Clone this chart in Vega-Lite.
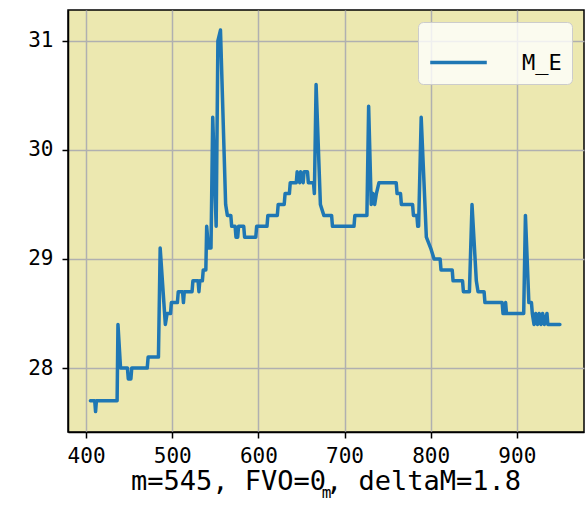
{
  "$schema": "https://vega.github.io/schema/vega-lite/v6.json",
  "autosize": {"type": "none"},
  "width": 516,
  "height": 422,
  "padding": {"left": 68, "top": 10, "right": 1, "bottom": 74},
  "background": "white",
  "title": {
    "text": "m=545, FVO=0, deltaM=1.8",
    "orient": "bottom",
    "anchor": "middle",
    "font": "DejaVu Sans Mono, monospace",
    "fontSize": 27,
    "fontWeight": "normal",
    "color": "black",
    "offset": -31
  },
  "config": {
    "view": {"fill": "#ece8b0", "stroke": "black", "strokeWidth": 1.5},
    "axis": {
      "labelFont": "DejaVu Sans Mono, monospace",
      "titleFont": "DejaVu Sans Mono, monospace",
      "labelFontSize": 21,
      "labelColor": "black",
      "tickColor": "black",
      "tickSize": 6,
      "tickWidth": 1.5,
      "domainColor": "black",
      "domainWidth": 1.5,
      "gridColor": "#b0b0b0",
      "gridWidth": 1.5,
      "gridOpacity": 1
    }
  },
  "data": {
    "values": [
      {"m": 405, "v": 27.7}, {"m": 410, "v": 27.7}, {"m": 411, "v": 27.6}, {"m": 412, "v": 27.7},
      {"m": 436, "v": 27.7}, {"m": 437, "v": 28.4}, {"m": 440, "v": 28.0}, {"m": 448, "v": 28.0},
      {"m": 449, "v": 27.9}, {"m": 452, "v": 27.9}, {"m": 453, "v": 28.0}, {"m": 471, "v": 28.0},
      {"m": 472, "v": 28.1}, {"m": 484, "v": 28.1}, {"m": 486, "v": 29.1}, {"m": 492, "v": 28.4},
      {"m": 494, "v": 28.5}, {"m": 498, "v": 28.5}, {"m": 499, "v": 28.6}, {"m": 506, "v": 28.6},
      {"m": 507, "v": 28.7}, {"m": 512, "v": 28.7}, {"m": 513, "v": 28.6}, {"m": 514, "v": 28.7},
      {"m": 523, "v": 28.7}, {"m": 524, "v": 28.8}, {"m": 530, "v": 28.8}, {"m": 531, "v": 28.7},
      {"m": 532, "v": 28.8}, {"m": 535, "v": 28.8}, {"m": 536, "v": 28.9}, {"m": 539, "v": 28.9},
      {"m": 540, "v": 29.3}, {"m": 542, "v": 29.1}, {"m": 545, "v": 29.1}, {"m": 547, "v": 30.3},
      {"m": 551, "v": 29.3}, {"m": 553, "v": 31.0}, {"m": 556, "v": 31.1}, {"m": 562, "v": 29.5},
      {"m": 564, "v": 29.4}, {"m": 568, "v": 29.4}, {"m": 569, "v": 29.3}, {"m": 573, "v": 29.3},
      {"m": 574, "v": 29.2}, {"m": 576, "v": 29.2}, {"m": 577, "v": 29.3}, {"m": 583, "v": 29.3},
      {"m": 584, "v": 29.2}, {"m": 597, "v": 29.2}, {"m": 598, "v": 29.3}, {"m": 610, "v": 29.3},
      {"m": 611, "v": 29.4}, {"m": 622, "v": 29.4}, {"m": 623, "v": 29.5}, {"m": 630, "v": 29.5},
      {"m": 631, "v": 29.6}, {"m": 636, "v": 29.6}, {"m": 637, "v": 29.7}, {"m": 644, "v": 29.7},
      {"m": 645, "v": 29.8}, {"m": 648, "v": 29.7}, {"m": 649, "v": 29.8}, {"m": 652, "v": 29.7},
      {"m": 653, "v": 29.8}, {"m": 657, "v": 29.8}, {"m": 658, "v": 29.7}, {"m": 664, "v": 29.7},
      {"m": 665, "v": 29.6}, {"m": 667, "v": 30.6}, {"m": 672, "v": 29.5}, {"m": 676, "v": 29.4},
      {"m": 685, "v": 29.4}, {"m": 686, "v": 29.3}, {"m": 711, "v": 29.3}, {"m": 712, "v": 29.4},
      {"m": 726, "v": 29.4}, {"m": 728, "v": 30.4}, {"m": 731, "v": 29.5}, {"m": 733, "v": 29.6},
      {"m": 735, "v": 29.5}, {"m": 737, "v": 29.6}, {"m": 740, "v": 29.7}, {"m": 760, "v": 29.7},
      {"m": 761, "v": 29.6}, {"m": 765, "v": 29.6}, {"m": 766, "v": 29.5}, {"m": 779, "v": 29.5},
      {"m": 780, "v": 29.4}, {"m": 784, "v": 29.4}, {"m": 785, "v": 29.3}, {"m": 786, "v": 29.3},
      {"m": 789, "v": 30.3}, {"m": 795, "v": 29.2}, {"m": 800, "v": 29.1}, {"m": 804, "v": 29.0},
      {"m": 811, "v": 29.0}, {"m": 812, "v": 28.9}, {"m": 825, "v": 28.9}, {"m": 826, "v": 28.8},
      {"m": 837, "v": 28.8}, {"m": 838, "v": 28.7}, {"m": 845, "v": 28.7}, {"m": 848, "v": 29.5},
      {"m": 853, "v": 28.8}, {"m": 855, "v": 28.7}, {"m": 862, "v": 28.7}, {"m": 863, "v": 28.6},
      {"m": 883, "v": 28.6}, {"m": 884, "v": 28.5}, {"m": 886, "v": 28.5}, {"m": 887, "v": 28.6},
      {"m": 888, "v": 28.5}, {"m": 908, "v": 28.5}, {"m": 910, "v": 29.4}, {"m": 914, "v": 28.6},
      {"m": 917, "v": 28.6}, {"m": 918, "v": 28.5}, {"m": 920, "v": 28.4}, {"m": 922, "v": 28.5},
      {"m": 924, "v": 28.4}, {"m": 926, "v": 28.5}, {"m": 928, "v": 28.4}, {"m": 930, "v": 28.5},
      {"m": 932, "v": 28.4}, {"m": 935, "v": 28.5}, {"m": 936, "v": 28.4}, {"m": 950, "v": 28.4}
    ]
  },
  "transform": [{"calculate": "'M_E'", "as": "series"}],
  "mark": {"type": "line", "strokeWidth": 3.5, "strokeCap": "round", "strokeJoin": "round"},
  "encoding": {
    "x": {
      "field": "m", "type": "quantitative",
      "scale": {"domain": [379, 978], "nice": false, "zero": false},
      "axis": {"values": [400, 500, 600, 700, 800, 900], "title": "m", "titleFontSize": 16, "titleFontWeight": "normal", "titlePadding": 18, "labelPadding": 7}
    },
    "y": {
      "field": "v", "type": "quantitative",
      "scale": {"domain": [27.413, 31.284], "nice": false, "zero": false},
      "axis": {"values": [28, 29, 30, 31], "title": null, "labelPadding": 9}
    },
    "color": {
      "field": "series", "type": "nominal",
      "scale": {"range": ["#1f77b4"]},
      "legend": {
        "title": null,
        "orient": "top-right",
        "offset": 12,
        "symbolType": "stroke",
        "symbolSize": 3200,
        "symbolStrokeWidth": 3.5,
        "labelFont": "DejaVu Sans Mono, monospace",
        "labelFontSize": 22,
        "labelColor": "black",
        "labelOffset": 33,
        "padding": 10,
        "fillColor": "rgba(255,255,255,0.8)",
        "strokeColor": "#cccccc",
        "cornerRadius": 5
      }
    }
  }
}
